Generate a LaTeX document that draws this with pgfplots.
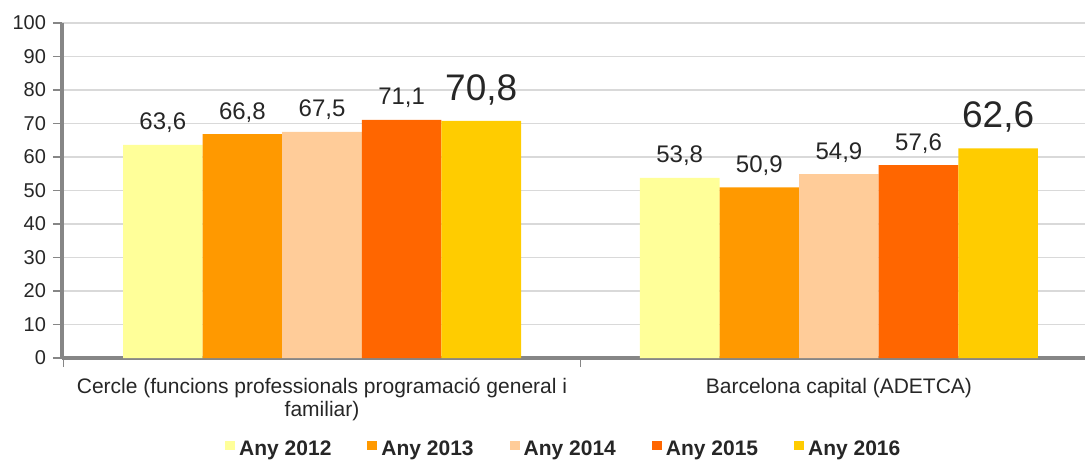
\documentclass[border=0pt]{standalone}
\usepackage{pgfplots}
\pgfplotsset{compat=1.18}
\usepackage{fontspec}
\setmainfont{Liberation Sans}
\definecolor{c12}{HTML}{FFFF99}
\definecolor{c13}{HTML}{FF9900}
\definecolor{c14}{HTML}{FFCC99}
\definecolor{c15}{HTML}{FF6600}
\definecolor{c16}{HTML}{FFCC00}
\definecolor{axgray}{HTML}{868686}
\definecolor{gridgray}{HTML}{D9D9D9}
\definecolor{txt}{HTML}{262626}
\begin{document}
\begin{tikzpicture}
\path[use as bounding box] (-31pt,-51.5pt) rectangle (512.5pt,179pt);
\begin{axis}[
  scale only axis,
  width=511.5pt, height=167.5pt,
  at={(0,0)}, anchor=south west,
  ybar=0pt, bar width=39.8pt,
  xmin=-0.503, xmax=1.476, ymin=0, ymax=100,
  ytick={0,10,...,100},
  xtick={0,1},
  xticklabels={{Cercle (funcions professionals programació general i\\familiar)},{Barcelona capital (ADETCA)}},
  minor xtick={-0.5,0.5,1.5},
  major x tick style={draw=none},
  minor x tick style={axgray, line width=0.9pt},
  minor tick length=4.5pt,
  major tick length=4.5pt,
  y tick style={axgray, line width=0.9pt},
  tick align=outside,
  axis x line*=bottom, axis y line*=left,
  axis line style={axgray, line width=1.6pt, -},
  ymajorgrids, grid style={gridgray, line width=0.6pt},
  /pgf/number format/assume math mode=true,
  yticklabel style={font=\fontsize{10}{12}\selectfont, text=txt},
  xticklabel style={font=\fontsize{10.5}{11.5}\selectfont, text=txt, align=center, yshift=-2pt},
  nodes near coords={\pgfmathprintnumber[fixed,fixed zerofill,precision=1,use comma,assume math mode=true]{\pgfplotspointmeta}},
  every node near coord/.append style={font=\fontsize{12}{14}\selectfont, text=txt, anchor=base, inner sep=0pt, yshift=7.5pt},
  legend columns=5,
  legend style={draw=none, fill=none, at={(0.4915,-0.2746)}, anchor=center,
    font=\bfseries\fontsize{10.5}{12}\selectfont, text=txt,
    /tikz/every even column/.append style={column sep=16pt}},
  legend image code/.code={\fill[#1,draw=none] (0pt,0pt) rectangle (5pt,4.5pt);},
]
\addplot[fill=c12, draw=none] coordinates {(0,63.6) (1,53.8)};
\addplot[fill=c13, draw=none] coordinates {(0,66.8) (1,50.9)};
\addplot[fill=c14, draw=none] coordinates {(0,67.5) (1,54.9)};
\addplot[fill=c15, draw=none] coordinates {(0,71.1) (1,57.6)};
\addplot[fill=c16, draw=none, every node near coord/.append style={font=\fontsize{18.5}{20}\selectfont, yshift=2.75pt}] coordinates {(0,70.8) (1,62.6)};
\legend{Any 2012,Any 2013,Any 2014,Any 2015,Any 2016}
\end{axis}
\end{tikzpicture}
\end{document}
